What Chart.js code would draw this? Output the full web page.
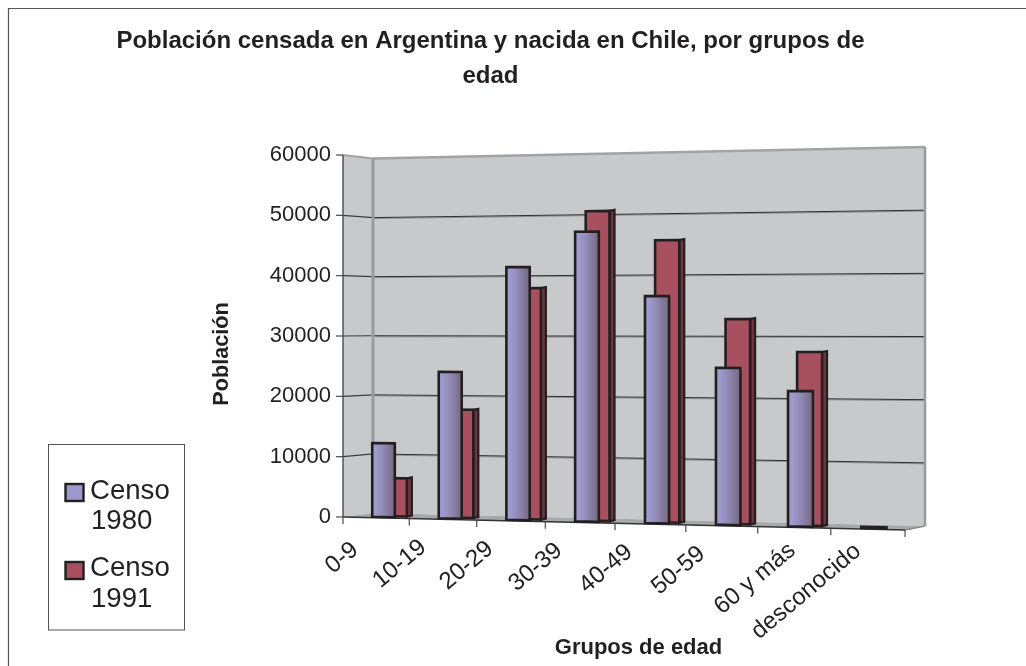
<!DOCTYPE html>
<html><head><meta charset="utf-8">
<script src="https://cdn.jsdelivr.net/npm/chart.js@4/dist/chart.umd.min.js"></script>
<style>html,body{margin:0;padding:0;background:#fff}canvas{display:block}</style>
</head><body><canvas id="c" width="1026" height="666"></canvas>
<script>
const categories = ['0-9','10-19','20-29','30-39','40-49','50-59','60 y más','desconocido'];
const censo1980 = [12160,23980,41050,46660,36250,24850,21270,200];
const censo1991 = [6270,17650,37450,49800,45000,32400,27240,null];
const titleLines = ['Población censada en Argentina y nacida en Chile, por grupos de','edad'];
const FONT = '"Liberation Sans", Arial, sans-serif';
const INK = '#231f20';

// oblique view: maps the flat scale position to the tilted picture
const fx = u => 343 + 526*u + 36*u*u;
const baseAt = X => 517 + 0.0231*(X-343);
const tallAt = X => 362 + 0.0445*(X-343);
const wall = v => ({
  l: 513 - v*354.5,
  r: 526 - v*379
});
function poly(ctx, pts, fill, stroke, lw){
  ctx.beginPath();
  pts.forEach((p,i)=> i?ctx.lineTo(p[0],p[1]):ctx.moveTo(p[0],p[1]));
  ctx.closePath();
  if(fill){ctx.fillStyle=fill;ctx.fill();}
  if(stroke){ctx.strokeStyle=stroke;ctx.lineWidth=lw;ctx.lineJoin='miter';ctx.stroke();}
}
function line(ctx,x1,y1,x2,y2,c,w){
  ctx.beginPath();ctx.moveTo(x1,y1);ctx.lineTo(x2,y2);ctx.strokeStyle=c;ctx.lineWidth=w;ctx.stroke();
}
function shift(obj, m, dx, dy, ctx){
  const f = obj[m];
  obj[m] = function(...a){ctx.save();ctx.translate(dx,dy);f.apply(this,a);ctx.restore();};
}
const labelNudge = [[-2,4],[-1,0],[-2,0],[-2,0],[-2,0],[-1,0],[17,-5],[9,-6]];

const view3d = {
  id:'view3d',
  afterDatasetsUpdate(chart){
    const xs = chart.scales.x, ys = chart.scales.y;
    const L = xs.left, W = xs.width, cat = W/categories.length;
    const vOf = py => (ys.getPixelForValue(0)-py)/(ys.getPixelForValue(0)-ys.getPixelForValue(60000));
    chart.data.datasets.forEach((ds,di)=>{
      chart.getDatasetMeta(di).data.forEach(el=>{
        el.draw = function(ctx){
          const p = this.getProps(['x','y','base','width'],true);
          let u0 = (p.x-L)/W;
          const off = di===0 ? (0.115-0.035*u0)*cat : (0.30-0.11*u0)*cat;
          const xl = p.x-p.width/2+off, xr = p.x+p.width/2+off;
          const Xl = fx((xl-L)/W), Xr = fx((xr-L)/W);
          const lift = di===0 ? 1 : 2;
          const by = X => baseAt(X)-lift;
          const ty = X => by(X)-vOf(p.y)*tallAt(X);
          ctx.save();
          if(di===1){
            const d=5, e=1;
            poly(ctx,[[Xr,ty(Xr)],[Xr+d,ty(Xr)-e],[Xr+d,by(Xr)-e],[Xr,by(Xr)]],'#6e3540',INK,2.2);
          }
          let fill;
          if(di===0){
            fill = ctx.createLinearGradient(Xl,0,Xr,0);
            fill.addColorStop(0,'#9a96cc');fill.addColorStop(0.12,'#a09ccf');
            fill.addColorStop(0.45,'#938cba');fill.addColorStop(1,'#75687f');
          } else fill = ds.backgroundColor;
          poly(ctx,[[Xl,ty(Xl)],[Xr,ty(Xr)],[Xr,by(Xr)],[Xl,by(Xl)]],fill,INK,2.6);
          ctx.restore();
        };
      });
    });
  },
  beforeDraw(chart){
    const ctx = chart.ctx;
    line(ctx,8.5,666,8.5,8.5,'#555',1.2);
    line(ctx,8,8.5,1026,8.5,'#555',1.2);
    if(!chart.$wrapped){
      chart.$wrapped = true;
      shift(chart.titleBlock,'draw',38,0,ctx);
      shift(chart.scales.y,'drawTitle',209,18,ctx);
      shift(chart.scales.x,'drawTitle',14.5,-5,ctx);
      const xs = chart.scales.x;
      const f = xs.drawLabels;
      xs.drawLabels = function(area){
        const items = this.getLabelItems(area);
        items.forEach((it,i)=>{
          const u = (this.getPixelForTick(i)-this.left)/this.width;
          const X = fx(u);
          it.options.translation = [X-28+labelNudge[i][0], baseAt(X)+14+labelNudge[i][1]];
        });
        f.call(this,area);
      };
    }
  },
  beforeDatasetsDraw(chart){
    const ctx = chart.ctx, ys = chart.scales.y;
    const vOf = val => val/60000;
    ctx.save();
    // side wall, back wall, floor
    poly(ctx,[[343,155],[373,158.5],[373,513],[343,517]],'#c8c9cb');
    poly(ctx,[[373,158.5],[925,147],[925,526],[373,513]],'#c8c9cb');
    poly(ctx,[[343,517],[905,530],[925,526],[373,513]],'#a7a8aa');
    // value lines come from the library's own ticks
    ys.ticks.forEach(t=>{
      const v = vOf(t.value);
      const front = 517-362*v, w = wall(v);
      if(t.value>0 && t.value<60000){
        line(ctx,343,front,373,w.l,'#3c3c3e',1.2);
        line(ctx,373,w.l+1,925,w.r+1,'#8f9092',1);
        line(ctx,373,w.l,925,w.r,'#2f2f31',1);
      }
      line(ctx,336,front,343,front,'#4a4a4c',1.2);
    });
    line(ctx,343,155,373,158.5,'#a2a3a5',2);
    line(ctx,373,158.5,925,147,'#a2a3a5',2.6);
    line(ctx,925,147,925,526,'#9a9b9d',2.6);
    line(ctx,373,158.5,373,513,'#9a9b9d',3);
    line(ctx,925,526,905,530,'#8a8b8d',1.4);
    line(ctx,343,155,343,517,'#4a4a4c',1.4);
    line(ctx,343,517,905,530,'#333335',1.4);
    categories.concat(['']).forEach((_,i)=>{
      const X = fx(i/categories.length), y = baseAt(X);
      line(ctx,X,y,X,y+7,'#4a4a4c',1.2);
    });
    ctx.restore();
  },
  afterDraw(chart){
    const ctx = chart.ctx;
    ctx.save();
    ctx.fillStyle='#fff';
    ctx.fillRect(48.5,444.5,136,185.5);
    ctx.strokeStyle='#555';ctx.lineWidth=1;
    ctx.strokeRect(48.5,444.5,136,185.5);
    ctx.font='27.6px '+FONT;
    ctx.fillStyle=INK;ctx.textAlign='left';ctx.textBaseline='middle';
    const rows=[[483,491,521],[561,568,599]];
    chart.data.datasets.forEach((ds,i)=>{
      const parts = ds.label.split(' ');
      ctx.fillStyle = ds.backgroundColor;
      ctx.fillRect(65.5,rows[i][0]+1,18,17);
      ctx.strokeStyle=INK;ctx.lineWidth=2.4;
      ctx.strokeRect(65.5,rows[i][0]+1,18,17);
      ctx.fillStyle=INK;
      ctx.fillText(parts[0],90,rows[i][1]);
      ctx.fillText(parts[1],91,rows[i][2]);
    });
    ctx.restore();
  }
};

new Chart(document.getElementById('c'),{
  type:'bar',
  data:{labels:categories,datasets:[
    {label:'Censo 1980',data:censo1980,backgroundColor:'#9c98cc',clip:false},
    {label:'Censo 1991',data:censo1991,backgroundColor:'#a8505f',clip:false}
  ]},
  options:{
    responsive:false,animation:false,
    layout:{padding:{left:0,right:121,top:0,bottom:0}},
    datasets:{bar:{grouped:false,barPercentage:0.34,categoryPercentage:1}},
    plugins:{
      legend:{display:false},tooltip:{enabled:false},
      title:{display:true,text:titleLines,color:INK,
        font:{family:FONT,size:24,weight:'bold',lineHeight:1.45},
        padding:{top:24,bottom:61.4}}
    },
    scales:{
      x:{grid:{display:false,drawTicks:false},border:{display:false},
        afterFit(s){s.height=149;},
        ticks:{autoSkip:false,minRotation:40,maxRotation:40,color:INK,padding:0,font:{family:FONT,size:24}},
        title:{display:true,text:'Grupos de edad',color:INK,padding:0,font:{family:FONT,size:22,weight:'bold'}}},
      y:{min:0,max:60000,grid:{display:false,drawTicks:false},border:{display:false},
        afterFit(s){s.width=343;},
        ticks:{stepSize:10000,color:INK,padding:12,font:{family:FONT,size:22},callback:v=>String(v)},
        title:{display:true,text:'Población',color:INK,padding:0,font:{family:FONT,size:21.7,weight:'bold'}}}
    }
  },
  plugins:[view3d]
});
</script></body></html>
